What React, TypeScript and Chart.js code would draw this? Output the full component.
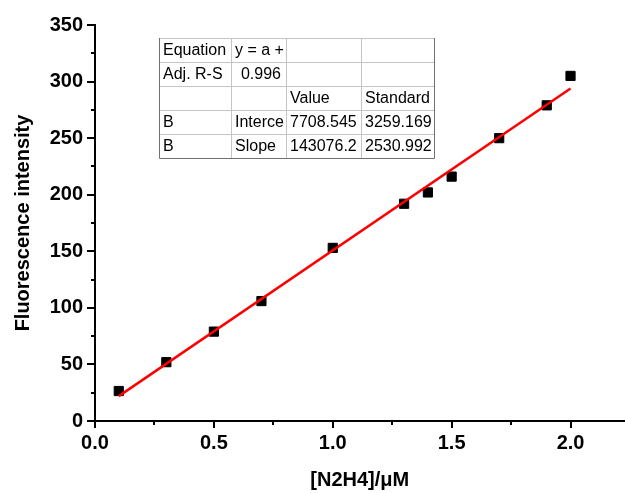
import React, { useEffect, useRef } from "react";
import { Chart, registerables } from "chart.js";

Chart.register(...registerables);

// ---- data ----
const concentrations = [0.1, 0.3, 0.5, 0.7, 1.0, 1.3, 1.4, 1.5, 1.7, 1.9, 2.0];
const intensities = [26.5, 52, 79, 106, 153, 192, 202, 216, 250, 279, 305];
const fitX = [0.1, 2.0];
const fitY = [22.0, 293.9];

const xMajorTicks = [0, 0.5, 1.0, 1.5, 2.0];
const xMinorTicks = [0.25, 0.75, 1.25, 1.75];
const yMajorTicks = [0, 50, 100, 150, 200, 250, 300, 350];
const yMinorTicks = [25, 75, 125, 175, 225, 275, 325];

const xTitle = "[N2H4]/μM";
const yTitle = "Fluorescence intensity";

const tableRows = [
  ["Equation", "y = a +", "", ""],
  ["Adj. R-S", "0.996", "", ""],
  ["", "", "Value", "Standard"],
  ["B", "Interce", "7708.545", "3259.169"],
  ["B", "Slope", "143076.2", "2530.992"],
];
const tableRightAligned = [[false, false, false, false], [false, true, false, false], [false, false, false, false], [false, false, false, false], [false, false, false, false]];

const FAMILY = "'Liberation Sans', Arial, Helvetica, sans-serif";

const ticksPlugin = {
  id: "customTicks",
  afterDraw(chart: any) {
    const { ctx, chartArea } = chart;
    const xs = chart.scales.x;
    const ys = chart.scales.y;
    const x0 = chartArea.left;
    const y0 = chartArea.bottom;
    ctx.save();
    ctx.strokeStyle = "#000";
    ctx.lineWidth = 2;
    ctx.beginPath();
    xMajorTicks.forEach((v) => {
      const p = Math.round(xs.getPixelForValue(v));
      ctx.moveTo(p, y0);
      ctx.lineTo(p, y0 + 7);
    });
    xMinorTicks.forEach((v) => {
      const p = Math.round(xs.getPixelForValue(v));
      ctx.moveTo(p, y0);
      ctx.lineTo(p, y0 + 4);
    });
    yMajorTicks.forEach((v) => {
      const p = Math.round(ys.getPixelForValue(v));
      ctx.moveTo(x0, p);
      ctx.lineTo(x0 - 8, p);
    });
    yMinorTicks.forEach((v) => {
      const p = Math.round(ys.getPixelForValue(v));
      ctx.moveTo(x0, p);
      ctx.lineTo(x0 - 4, p);
    });
    ctx.stroke();
    ctx.restore();
  },
};

const tablePlugin = {
  id: "fitTable",
  afterDraw(chart: any) {
    const { ctx } = chart;
    const cols = [159, 231, 286, 361, 434];
    const top = 38;
    const rowH = 24;
    const nRows = tableRows.length;
    const bottom = top + rowH * nRows;
    ctx.save();
    ctx.fillStyle = "#fff";
    ctx.fillRect(cols[0], top, cols[cols.length - 1] - cols[0], bottom - top);
    ctx.lineWidth = 1;
    ctx.strokeStyle = "#c4c4c4";
    ctx.beginPath();
    for (let r = 1; r < nRows; r++) {
      ctx.moveTo(cols[0], top + r * rowH + 0.5);
      ctx.lineTo(cols[cols.length - 1], top + r * rowH + 0.5);
    }
    for (let c = 1; c < cols.length - 1; c++) {
      ctx.moveTo(cols[c] + 0.5, top);
      ctx.lineTo(cols[c] + 0.5, bottom);
    }
    ctx.moveTo(cols[0], top + 0.5);
    ctx.lineTo(cols[cols.length - 1], top + 0.5);
    ctx.stroke();
    ctx.strokeStyle = "#707070";
    ctx.beginPath();
    ctx.moveTo(cols[0] + 0.5, top);
    ctx.lineTo(cols[0] + 0.5, bottom + 0.5);
    ctx.lineTo(cols[cols.length - 1] + 0.5, bottom + 0.5);
    ctx.lineTo(cols[cols.length - 1] + 0.5, top);
    ctx.stroke();
    ctx.fillStyle = "#000";
    ctx.font = `16px ${FAMILY}`;
    ctx.textBaseline = "middle";
    tableRows.forEach((row, r) => {
      row.forEach((txt, c) => {
        if (!txt) return;
        const cy = top + r * rowH + rowH / 2 + 1;
        ctx.save();
        ctx.beginPath();
        ctx.rect(cols[c] + 1, top + r * rowH, cols[c + 1] - cols[c] - 1, rowH);
        ctx.clip();
        if (tableRightAligned[r][c]) {
          ctx.textAlign = "right";
          ctx.fillText(txt, cols[c + 1] - 5, cy);
        } else {
          ctx.textAlign = "left";
          ctx.fillText(txt, cols[c] + 4, cy);
        }
        ctx.restore();
      });
    });
    ctx.restore();
  },
};

export default function App() {
  const canvasRef = useRef<HTMLCanvasElement | null>(null);

  useEffect(() => {
    if (!canvasRef.current) return;
    const boldFont = { family: FAMILY, size: 20, weight: "bold" as const };
    const chart = new Chart(canvasRef.current, {
      type: "scatter",
      data: {
        datasets: [
          {
            type: "line",
            label: "Fit",
            data: fitX.map((x, i) => ({ x, y: fitY[i] })),
            borderColor: "#ff0000",
            borderWidth: 2.5,
            pointRadius: 0,
            fill: false,
          },
          {
            type: "scatter",
            label: "Data",
            data: concentrations.map((x, i) => ({ x, y: intensities[i] })),
            pointStyle: "rect",
            pointRadius: 6.5,
            backgroundColor: "#000",
            borderColor: "#000",
            borderWidth: 1,
          },
        ],
      },
      options: {
        animation: false,
        responsive: false,
        maintainAspectRatio: false,
        layout: { padding: { top: 25, right: 0, left: 0, bottom: 0 } },
        plugins: { legend: { display: false }, tooltip: { enabled: false } },
        scales: {
          x: {
            type: "linear",
            min: 0,
            max: 2.227,
            afterBuildTicks: (s: any) => {
              s.ticks = xMajorTicks.map((v) => ({ value: v }));
            },
            afterFit: (s: any) => {
              s.height = 72;
            },
            grid: { display: false, drawTicks: true, tickLength: 8 },
            border: { display: true, color: "#000", width: 2 },
            ticks: {
              font: boldFont,
              color: "#000",
              padding: 2,
              maxRotation: 0,
              autoSkip: false,
              callback: (v: any) => Number(v).toFixed(1),
            },
            title: {
              display: true,
              text: xTitle,
              font: boldFont,
              color: "#000",
              padding: { top: 0, bottom: 1 },
            },
          },
          y: {
            type: "linear",
            min: 0,
            max: 350,
            afterBuildTicks: (s: any) => {
              s.ticks = yMajorTicks.map((v) => ({ value: v }));
            },
            afterFit: (s: any) => {
              s.width = 95;
            },
            grid: { display: false, drawTicks: true, tickLength: 8 },
            border: { display: true, color: "#000", width: 2 },
            ticks: {
              font: boldFont,
              color: "#000",
              padding: 4,
              autoSkip: false,
              callback: (v: any) => String(v),
            },
            title: {
              display: true,
              text: yTitle,
              font: boldFont,
              color: "#000",
              padding: { top: 11, bottom: 0 },
            },
          },
        },
      },
      plugins: [ticksPlugin, tablePlugin],
    } as any);
    return () => chart.destroy();
  }, []);

  return (
    <div style={{ position: "absolute", left: 0, top: 0, width: 625, height: 493, overflow: "hidden", background: "#fff" }}>
      <canvas ref={canvasRef} width={632} height={493} style={{ display: "block" }} />
    </div>
  );
}
